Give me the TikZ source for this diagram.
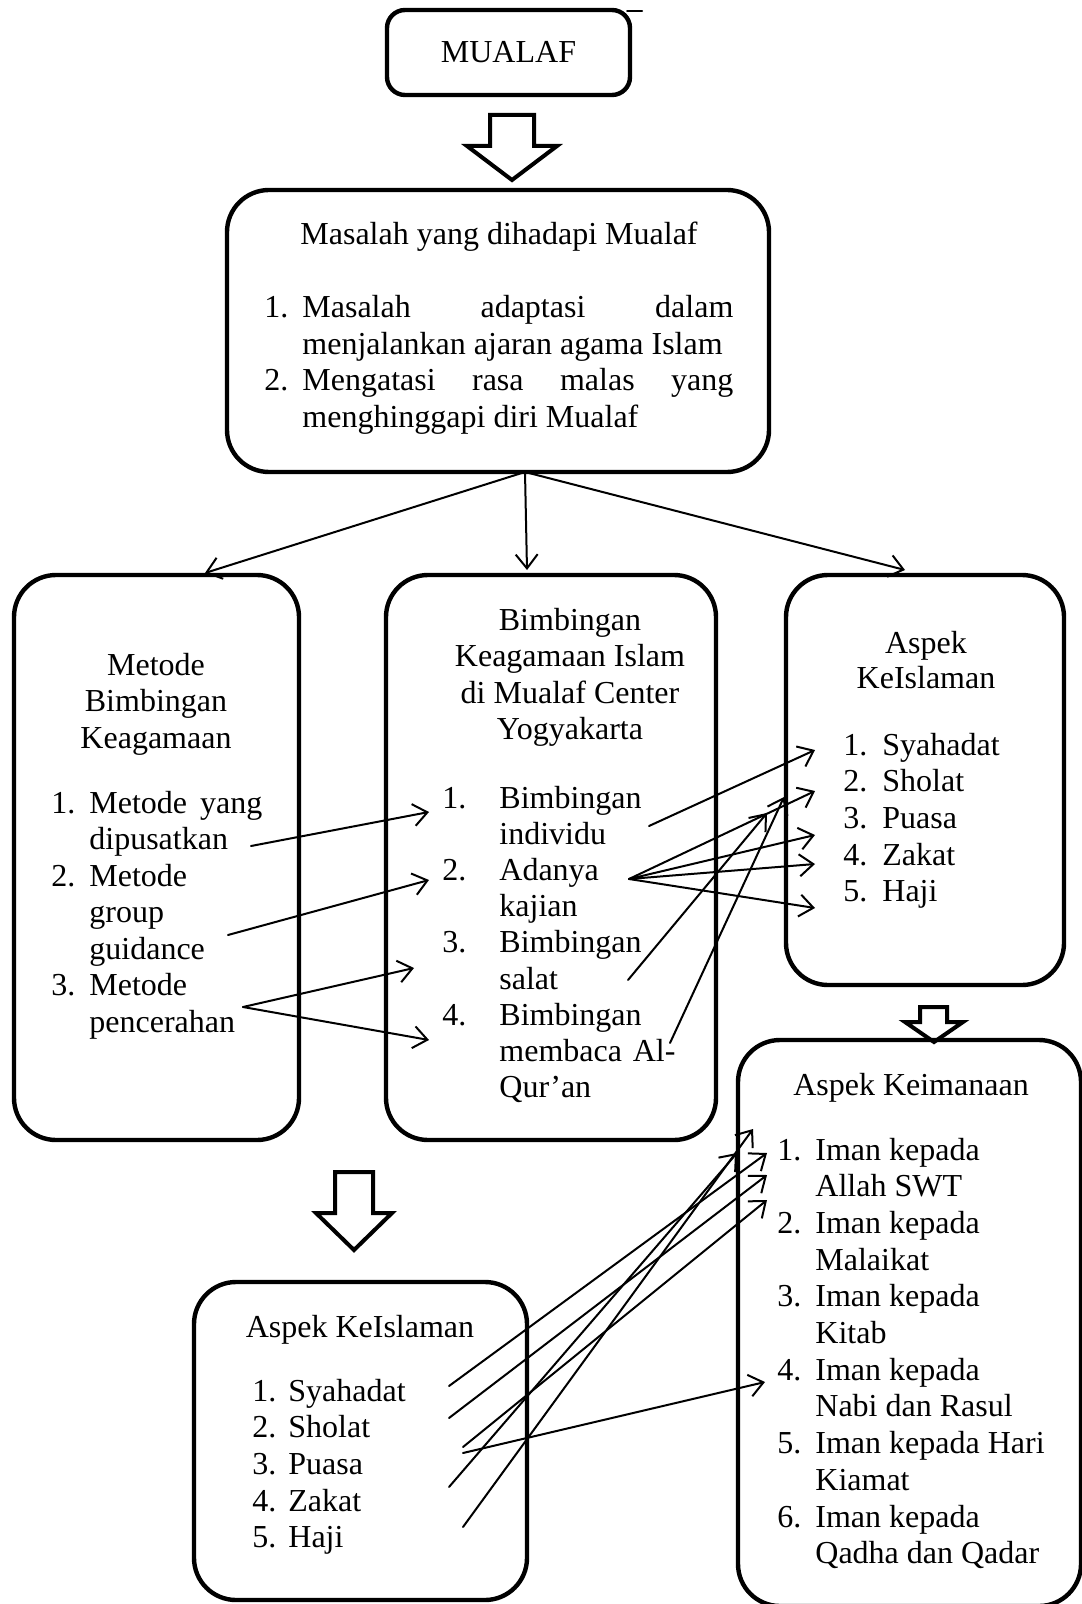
\documentclass[tikz,border=0pt]{standalone}
\usepackage{fontspec}
\setmainfont{Liberation Serif}
\usetikzlibrary{arrows.meta}
\begin{document}
\begin{tikzpicture}[x=0.5pt,y=-0.5pt,line cap=round,>={Straight Barb[length=7pt,width=11pt]},
    font=\fontsize{16pt}{18pt}\selectfont,
    kotak/.style={draw,line width=2.2pt,rounded corners=21pt,inner sep=0pt},
    teks/.style={anchor=base west,inner sep=0pt},
    judul/.style={anchor=base,inner sep=0pt},
    hubung/.style={->,line width=1pt},
    blok/.style={draw,line width=2pt,line join=miter}]
  \useasboundingbox (0,0) rectangle (1081,1604);
  % kotak
  \node[kotak,rounded corners=9pt,minimum width=121.5pt,minimum height=42.5pt] (mualaf) at (508.5,52.5) {MUALAF};
  \draw[line width=1pt] (627,11) -- (642,11);
  \node[kotak,minimum width=271pt,minimum height=141pt] (masalah) at (498,331) {};
  \node[kotak,minimum width=142.5pt,minimum height=282.5pt] (metode) at (156.5,857.5) {};
  \node[kotak,minimum width=165pt,minimum height=282.5pt] (bimbingan) at (551,857.5) {};
  \node[kotak,minimum width=139pt,minimum height=205pt] (islam) at (925,780) {};
  \node[kotak,minimum width=171.5pt,minimum height=283pt] (iman) at (909.5,1323) {};
  \node[kotak,minimum width=166.5pt,minimum height=159pt] (islamb) at (360.5,1441) {};
  % panah blok
  \draw[blok] (490,115) -- (534,115) -- (534,146) -- (557,146) -- (512,180) -- (467,146) -- (490,146) -- cycle;
  \draw[blok] (920,1007) -- (947,1007) -- (947,1022) -- (963,1022) -- (934,1042) -- (905,1022) -- (920,1022) -- cycle;
  \draw[blok] (335,1172) -- (373,1172) -- (373,1213) -- (392,1213) -- (354,1250) -- (316,1213) -- (335,1213) -- cycle;
  % masalah
  \node[judul] (t-mas) at (499,245) {Masalah yang dihadapi Mualaf};
  \node[teks] (n-mas1) at (264,318) {1.};
  \node[teks] (n-mas2) at (264,391) {2.};
  \foreach \t [count=\i] in {{\makebox[215.5pt][s]{Masalah adaptasi dalam}},menjalankan ajaran agama Islam,
      {\makebox[215.5pt][s]{Mengatasi rasa malas yang}},menghinggapi diri Mualaf}
    \node[teks] (mas-\i) at (302,{318+36.5*(\i-1)}) {\t};
  % metode
  \foreach \t [count=\i] in {Metode,Bimbingan,Keagamaan}
    \node[judul] (t-met-\i) at (156,{675+36.5*(\i-1)}) {\t};
  \foreach \n/\k in {1/0,2/2,3/5}
    \node[teks] (n-met\n) at (51,{813+36.5*\k}) {\n.};
  \foreach \t [count=\i] in {{\makebox[86.5pt][s]{Metode yang}},dipusatkan,Metode,group,guidance,Metode,pencerahan}
    \node[teks] (met-\i) at (89,{813+36.5*(\i-1)}) {\t};
  % bimbingan
  \foreach \t [count=\i] in {Bimbingan,Keagamaan Islam,di Mualaf Center,Yogyakarta}
    \node[judul] (t-bim-\i) at (570,{630+36.5*(\i-1)}) {\t};
  \foreach \n/\k in {1/0,2/2,3/4,4/6}
    \node[teks] (n-bim\n) at (442,{808+36.2*\k}) {\n.};
  \foreach \t [count=\i] in {Bimbingan,individu,Adanya,kajian,Bimbingan,salat,Bimbingan,{\makebox[88pt][s]{membaca Al-}},Qur’an}
    \node[teks] (bim-\i) at (499,{808+36.2*(\i-1)}) {\t};
  % aspek keislaman (kanan)
  \node[judul] (t-isl-1) at (926,653) {Aspek};
  \node[judul] (t-isl-2) at (926,688) {KeIslaman};
  \foreach \t [count=\i] in {Syahadat,Sholat,Puasa,Zakat,Haji} {
    \node[teks] (n-isl\i) at (843,{755+36.7*(\i-1)}) {\i.};
    \node[teks] (isl-\i) at (882,{755+36.7*(\i-1)}) {\t};
  }
  % aspek keimanaan
  \node[judul] (t-iman) at (911,1095) {Aspek Keimanaan};
  \foreach \n in {1,...,6}
    \node[teks] (n-iman\n) at (777,{1160+73.4*(\n-1)}) {\n.};
  \foreach \t [count=\i] in {Iman kepada,Allah SWT,Iman kepada,Malaikat,Iman kepada,Kitab,Iman kepada,Nabi dan Rasul,
      Iman kepada Hari,Kiamat,Iman kepada,Qadha dan Qadar}
    \node[teks] (iman-\i) at (815,{1160+36.7*(\i-1)}) {\t};
  % aspek keislaman (bawah)
  \node[judul] (t-islb) at (360,1337) {Aspek KeIslaman};
  \foreach \t [count=\i] in {Syahadat,Sholat,Puasa,Zakat,Haji} {
    \node[teks] (n-islb\i) at (252,{1401+36.7*(\i-1)}) {\i.};
    \node[teks] (islb-\i) at (288,{1401+36.7*(\i-1)}) {\t};
  }
  % titik ujung panah
  \coordinate (ma) at (525,472);
  \coordinate (ke-met) at (205,573);
  \coordinate (ke-bim) at (527,570);
  \coordinate (ke-isl) at (905,570);
  \coordinate (met1) at (251,846);
  \coordinate (met2) at (228,935);
  \coordinate (met3) at (243,1007);
  \coordinate (bim1) at (429,812);
  \coordinate (bim2) at (429,880);
  \coordinate (bim3) at (414,968);
  \coordinate (bim4) at (429,1040);
  \coordinate (bimA) at (649,826);
  \coordinate (bimB) at (629,879);
  \coordinate (bimC) at (628,980);
  \coordinate (bimD) at (670,1043);
  \coordinate (isl1) at (815,750);
  \coordinate (isl2) at (815,791);
  \coordinate (isl3) at (815,835);
  \coordinate (isl4) at (815,864);
  \coordinate (isl5) at (815,908);
  \coordinate (isl6) at (767,813);
  \coordinate (isl7) at (784,797);
  \coordinate (b1) at (449,1386);
  \coordinate (b2) at (449,1418);
  \coordinate (b3) at (463,1447);
  \coordinate (b4) at (463,1453);
  \coordinate (b5) at (449,1487);
  \coordinate (b6) at (463,1527);
  \coordinate (i1) at (753,1129);
  \coordinate (i2) at (767,1153);
  \coordinate (i3) at (767,1175);
  \coordinate (i4) at (767,1200);
  \coordinate (i5) at (737,1153);
  \coordinate (i6) at (765,1382);
  \foreach \a/\b in {ma/ke-met,ma/ke-bim,ma/ke-isl,met1/bim1,met2/bim2,met3/bim3,met3/bim4,
      bimA/isl1,bimB/isl2,bimB/isl3,bimB/isl4,bimB/isl5,bimC/isl6,bimD/isl7,
      b1/i2,b2/i3,b3/i4,b4/i6,b5/i5,b6/i1}
    \draw[hubung] (\a) -- (\b);
\end{tikzpicture}
\end{document}
